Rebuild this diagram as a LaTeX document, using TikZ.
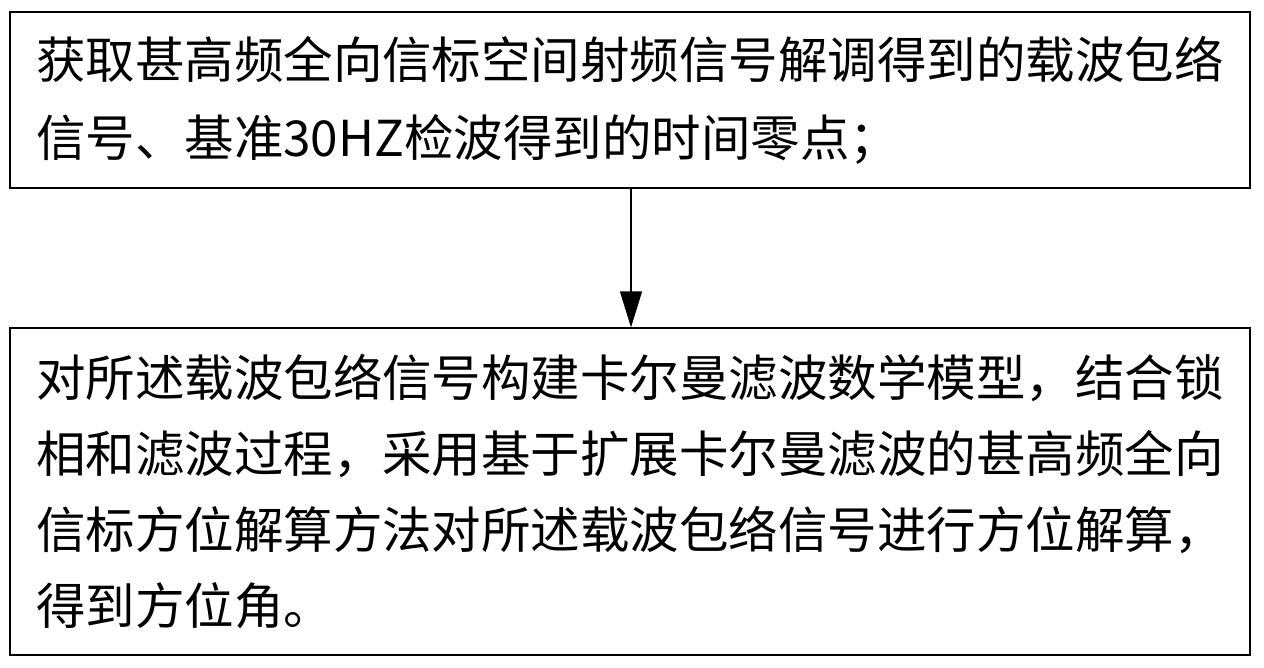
\documentclass[tikz,border=0pt]{standalone}
\usepackage{fontspec}
\newfontfamily\cjk{Noto Sans CJK SC}
\usetikzlibrary{arrows.meta}
\tikzset{
  stepbox/.style={draw=black, line width=1.2pt, rectangle, inner xsep=26pt, inner ysep=0pt,
    minimum width=1240pt, text width=1188pt, align=left, anchor=center},
  flowarrow/.style={draw=black, line width=1.2pt, -{Triangle[length=36pt,width=22pt]}}
}
\begin{document}
\begin{tikzpicture}[x=1pt,y=-1pt]
\useasboundingbox (0,0) rectangle (1264,667);
\fill[white] (0,0) rectangle (1264,667);
\node[stepbox, minimum height=176pt, font=\cjk\fontsize{49.5pt}{78pt}\selectfont] (b1) at (630,100)
  {获取甚高频全向信标空间射频信号解调得到的载波包络\\信号、基准30HZ检波得到的时间零点；};
\node[stepbox, minimum height=327pt, font=\cjk\fontsize{49.5pt}{76pt}\selectfont] (b2) at (630,491.5)
  {\raisebox{0pt}{}对所述载波包络信号构建卡尔曼滤波数学模型，结合锁\\相和滤波过程，采用基于扩展卡尔曼滤波的甚高频全向\\信标方位解算方法对所述载波包络信号进行方位解算，\\得到方位角。};
\draw[flowarrow] (b1.south -| 631,0) -- (b2.north -| 631,0);
\end{tikzpicture}
\end{document}
